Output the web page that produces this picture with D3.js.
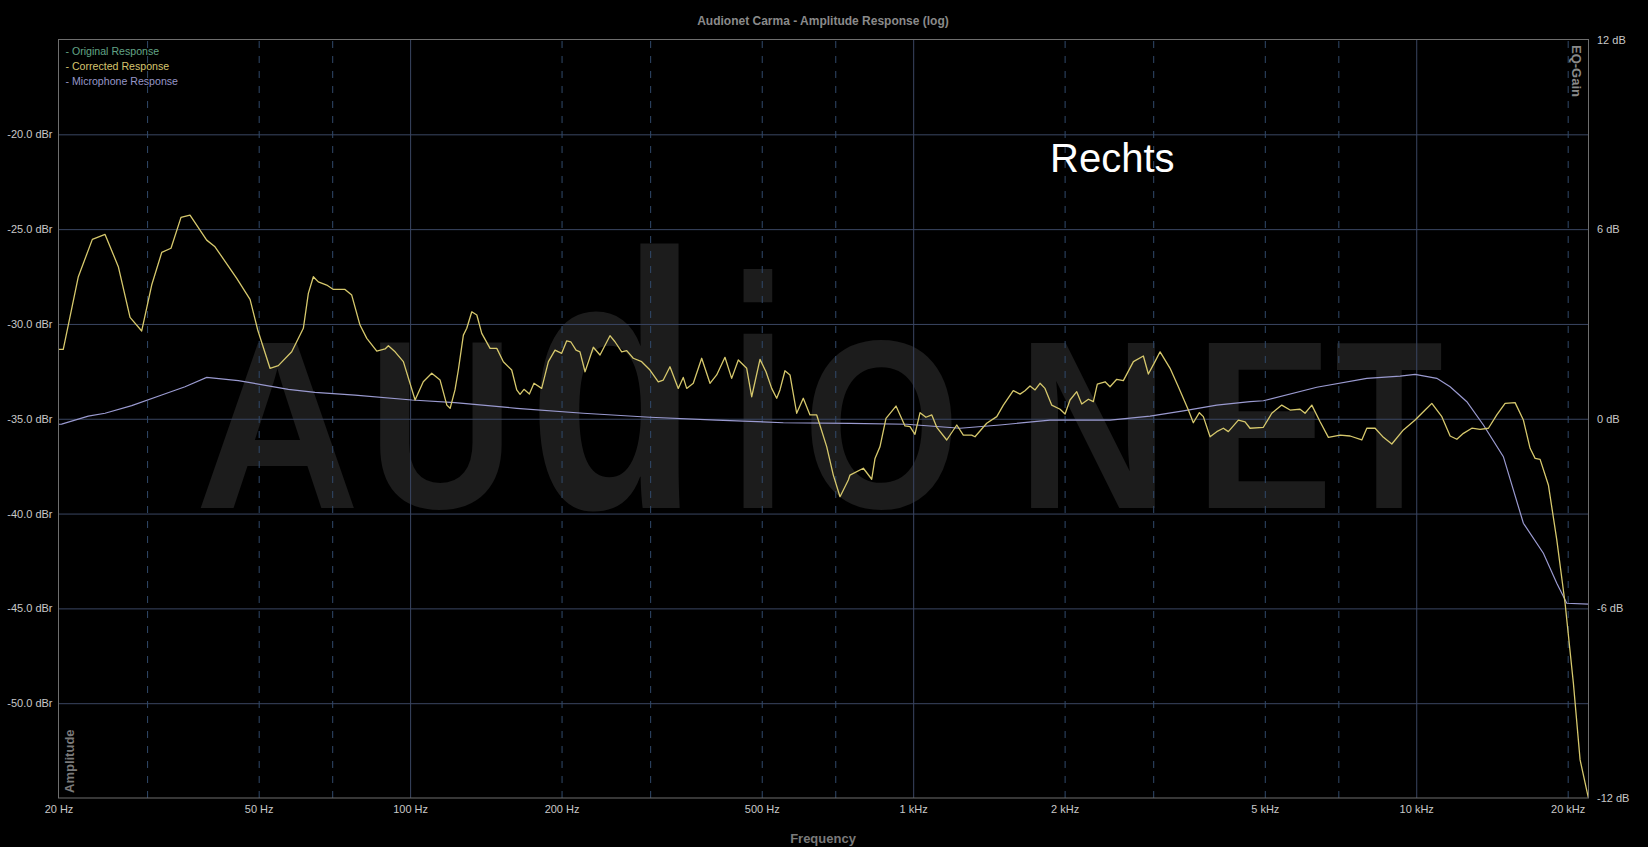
<!DOCTYPE html>
<html><head><meta charset="utf-8">
<script src="https://cdn.jsdelivr.net/npm/d3@7"></script>
<style>html,body{margin:0;padding:0;background:#000;overflow:hidden}</style>
</head><body>
<svg id="chart" width="1648" height="847"></svg>
<script>
// ---------- DATA ----------
const chartTitle = "Audionet Carma - Amplitude Response (log)";
const channelLabel = "Rechts";
const watermarkText = ["A","U","d","i","O","N","E","T"];
const freqTicks = [20,50,100,200,500,1000,2000,5000,10000,20000];
const freqTickLabels = ["20 Hz","50 Hz","100 Hz","200 Hz","500 Hz","1 kHz","2 kHz","5 kHz","10 kHz","20 kHz"];
const majorFreqGrid = [100,1000,10000];
const minorFreqGrid = [30,50,70,200,300,500,700,2000,3000,5000,7000,20000];
const dbrTicks = [-20,-25,-30,-35,-40,-45,-50];
const gainTicks = [12,6,0,-6,-12];
const legendLabels = ["- Original Response","- Corrected Response","- Microphone Response"];

const correctedFreq = [20,20.44,21.9,23.35,24.75,26.3,27.75,29.27,30.64,32.08,33.47,35.04,36.51,39.41,40.94,45.22,48.06,49.78,52.66,54.7,58.16,61.34,62.76,64.21,65.69,68.27,70.37,74.23,76.54,79.5,82.01,85.85,89.17,90.52,93.35,96.96,102.3,106.2,110.4,114.7,118.3,120.1,122.8,124.7,127.6,129.6,132.6,135.7,138.8,144.2,148.7,153.2,159.2,162.9,165.4,168.4,172.6,176.3,182.6,188.3,194.1,200.1,204.8,208.6,213.7,217.6,222.7,231.3,238.5,249.6,255.4,263.4,269.5,277.7,288.6,299.8,311.4,318.6,328.5,341.2,349.1,354.6,365.5,379.8,394.5,406.8,422.5,435.7,449.1,466.7,477.5,496,509.8,523.3,535.4,543.5,556.1,569,586.7,604.7,623.5,643,673.1,693.8,715.4,743.1,748.9,796,827.1,839.7,859.1,883,924.4,963.3,985.6,1008,1032,1060,1089,1114,1166,1221,1258,1307,1327,1400,1466,1511,1581,1631,1668,1707,1747,1787,1828,1885,1959,2004,2050,2114,2163,2230,2281,2323,2407,2462,2539,2617,2740,2868,2934,3012,3096,3241,3366,3524,3605,3706,3774,3892,4013,4136,4231,4430,4568,4673,4967,5162,5403,5613,5875,6011,6200,6440,6689,7058,7388,7795,7975,8284,8605,8942,9430,9948,10414,10739,11243,11678,12042,12411,12898,13396,13916,14458,15018,15722,16330,16840,17230,17628,18310,19028,19764,20530,21170,21990];
const correctedDb = [-31.34,-31.34,-27.51,-25.54,-25.28,-26.98,-29.65,-30.37,-27.95,-26.23,-26.01,-24.38,-24.26,-25.58,-25.93,-27.60,-28.70,-30.32,-32.34,-32.20,-31.47,-30.23,-28.39,-27.51,-27.78,-27.95,-28.18,-28.18,-28.48,-30.06,-30.76,-31.43,-31.32,-31.15,-31.47,-31.99,-34.01,-33.05,-32.60,-32.96,-34.28,-34.45,-33.48,-32.43,-30.59,-30.23,-29.36,-29.53,-30.50,-31.29,-31.29,-31.99,-32.43,-33.48,-33.71,-33.45,-33.70,-33.13,-33.40,-31.99,-31.38,-31.55,-30.89,-30.94,-31.38,-31.47,-32.52,-31.23,-31.64,-30.62,-30.94,-31.47,-31.41,-31.81,-31.99,-32.43,-33.05,-32.96,-32.26,-33.40,-32.82,-33.40,-33.13,-31.81,-33.13,-32.69,-31.76,-32.87,-31.90,-32.34,-33.84,-31.87,-32.52,-33.40,-33.92,-33.48,-32.47,-32.69,-34.71,-33.92,-34.80,-34.80,-36.47,-37.97,-39.11,-38.23,-37.97,-37.61,-38.19,-37.09,-36.47,-34.98,-34.33,-35.38,-35.42,-35.82,-34.68,-34.92,-34.80,-35.45,-36.12,-35.33,-35.86,-35.86,-35.95,-35.24,-34.89,-34.28,-33.52,-33.70,-33.52,-33.27,-33.48,-33.13,-33.40,-34.28,-34.50,-34.75,-34.01,-33.57,-34.22,-33.97,-34.10,-33.17,-33.05,-33.31,-32.92,-32.99,-31.99,-31.69,-32.64,-32.08,-31.47,-32.34,-33.31,-34.54,-35.21,-34.68,-34.89,-35.95,-35.68,-35.50,-35.68,-35.07,-35.16,-35.50,-35.45,-34.71,-34.28,-34.54,-34.50,-34.71,-34.28,-35.16,-35.98,-35.86,-35.91,-36.12,-35.50,-35.50,-35.98,-36.33,-35.59,-35.07,-34.54,-34.19,-34.89,-35.91,-36.08,-35.77,-35.50,-35.56,-35.50,-34.80,-34.19,-34.15,-35.07,-36.56,-37.09,-37.14,-38.49,-41.39,-44.73,-48.95,-52.99,-55.0];

const micFreq = [20,20.29,22.92,24.75,27.96,32.08,35.69,39.41,45.55,57.27,64.71,77.7,100.8,122.8,162.9,220.9,299.8,406.8,551.8,748.9,970.8,1239,1488,1871,2462,2957,3444,4013,4673,4967,6344,7975,9288,9948,10988,11678,12606,13600,14900,16330,17896,19028,19918,21990];
const micDb = [-35.29,-35.28,-34.86,-34.71,-34.31,-33.75,-33.31,-32.82,-32.99,-33.45,-33.61,-33.75,-34.01,-34.15,-34.45,-34.71,-34.92,-35.07,-35.21,-35.24,-35.29,-35.50,-35.33,-35.07,-35.07,-34.86,-34.58,-34.28,-34.10,-34.05,-33.34,-32.87,-32.75,-32.66,-32.87,-33.31,-34.10,-35.33,-37.00,-40.51,-42.09,-43.67,-44.73,-44.78];

// ---------- LAYOUT ----------
const W = 1648, H = 847;
const P = {left: 58.5, right: 1588.5, top: 39.5, bottom: 798};
const FONT = "'Liberation Sans', Arial, sans-serif";
const svg = d3.select("#chart");

const x = d3.scaleLog().domain([20, 22000]).range([P.left, P.right]);
const y = d3.scaleLinear().domain([-55, -15]).range([P.bottom, P.top]);
const yGain = d3.scaleLinear().domain([-12, 12]).range([P.bottom, P.top]);

svg.append("rect").attr("width", W).attr("height", H).attr("fill", "#000");

// watermark: each letter squeezed horizontally into its box [left, right, font-size]
const wmBoxes = [[195,360,240],[368,514,240],[528,698,365],[729,787,330],[803,960,240],[1017,1169,240],[1195,1333,240],[1335,1443,240]];
const wm = svg.append("g").attr("fill", "#1c1c1c")
  .attr("font-family", "'Liberation Sans', Arial, sans-serif").attr("font-weight", "bold");
watermarkText.forEach((ch, i) => {
  const b = wmBoxes[i];
  const t = wm.append("text").attr("x", 0).attr("y", 0).attr("font-size", b[2]).text(ch);
  const w = t.node().getComputedTextLength();
  t.attr("transform", `translate(${b[0]},508) scale(${(b[1] - b[0]) / w},1)`);
});

// horizontal grid + left labels
const gLeft = svg.append("g").attr("transform", `translate(${P.left},0)`)
  .call(d3.axisLeft(y).tickValues(dbrTicks).tickSize(-(P.right - P.left)).tickPadding(6)
    .tickFormat(d => d.toFixed(1) + " dBr"));
gLeft.select(".domain").remove();
gLeft.selectAll("line").attr("stroke", "#3a4662").attr("stroke-width", 1);
gLeft.selectAll("text").attr("fill", "#c8c8c8").attr("font-size", 11).attr("font-family", FONT);

// vertical grids
const gMaj = svg.append("g").attr("transform", `translate(0,${P.bottom})`)
  .call(d3.axisBottom(x).tickValues(majorFreqGrid).tickSize(-(P.bottom - P.top)).tickFormat(""));
gMaj.select(".domain").remove();
gMaj.selectAll("line").attr("stroke", "#3a4662");
const gMin = svg.append("g").attr("transform", `translate(0,${P.bottom})`)
  .call(d3.axisBottom(x).tickValues(minorFreqGrid).tickSize(-(P.bottom - P.top)).tickFormat(""));
gMin.select(".domain").remove();
gMin.selectAll("line").attr("stroke", "#30496a").attr("stroke-dasharray", "7,8");

// bottom labels
const gBot = svg.append("g").attr("transform", `translate(0,${P.bottom})`)
  .call(d3.axisBottom(x).tickValues(freqTicks).tickSize(0).tickPadding(7)
    .tickFormat((d, i) => freqTickLabels[i]));
gBot.select(".domain").remove();
gBot.selectAll("text").attr("fill", "#c8c8c8").attr("font-size", 11).attr("font-family", FONT);

// right labels
const gRight = svg.append("g").attr("transform", `translate(${P.right},0)`)
  .call(d3.axisRight(yGain).tickValues(gainTicks).tickSize(0).tickPadding(8.5)
    .tickFormat(d => d + " dB"));
gRight.select(".domain").remove();
gRight.selectAll("text").attr("fill", "#c8c8c8").attr("font-size", 11).attr("font-family", FONT);

// curves
svg.append("clipPath").attr("id", "clip").append("rect")
  .attr("x", P.left).attr("y", P.top).attr("width", P.right - P.left).attr("height", P.bottom - P.top);
const line = d3.line().x(d => x(d[0])).y(d => y(d[1]));
const micData = micFreq.map((f, i) => [f, micDb[i]]);
const corrData = correctedFreq.map((f, i) => [f, correctedDb[i]]);
svg.append("path").datum(micData).attr("clip-path", "url(#clip)")
  .attr("fill", "none").attr("stroke", "#9a9ad0").attr("stroke-width", 1.2).attr("d", line);
svg.append("path").datum(corrData).attr("clip-path", "url(#clip)")
  .attr("fill", "none").attr("stroke", "#d6c86c").attr("stroke-width", 1.3)
  .attr("stroke-linejoin", "round").attr("d", line);

// border
svg.append("rect").attr("x", P.left).attr("y", P.top).attr("width", P.right - P.left)
  .attr("height", P.bottom - P.top).attr("fill", "none").attr("stroke", "#6e6e6e").attr("stroke-width", 1);

// titles
svg.append("text").attr("x", 823).attr("y", 25).attr("text-anchor", "middle")
  .attr("font-family", FONT).attr("font-weight", "bold").attr("font-size", 12)
  .attr("fill", "#8a8a8a").text(chartTitle);
svg.append("text").attr("x", 823).attr("y", 843).attr("text-anchor", "middle")
  .attr("font-family", FONT).attr("font-weight", "bold").attr("font-size", 13)
  .attr("fill", "#7a7a7a").text("Frequency");
svg.append("text").attr("transform", "translate(74,793) rotate(-90)")
  .attr("font-family", FONT).attr("font-weight", "bold").attr("font-size", 13)
  .attr("fill", "#7a7a7a").text("Amplitude");
svg.append("text").attr("transform", "translate(1572,45) rotate(90)")
  .attr("font-family", FONT).attr("font-weight", "bold").attr("font-size", 13)
  .attr("fill", "#8a8a8a").text("EQ-Gain");

// legend
const legendColors = ["#62a486", "#d6c46e", "#9696c8"];
legendLabels.forEach((t, i) => {
  svg.append("text").attr("x", 65.5).attr("y", 55 + i * 14.8)
    .attr("font-family", FONT).attr("font-size", 10.6).attr("fill", legendColors[i]).text(t);
});

// channel label
svg.append("text").attr("x", 1050).attr("y", 172).attr("font-family", FONT)
  .attr("font-size", 40).attr("fill", "#ffffff").text(channelLabel);
</script>
</body></html>
